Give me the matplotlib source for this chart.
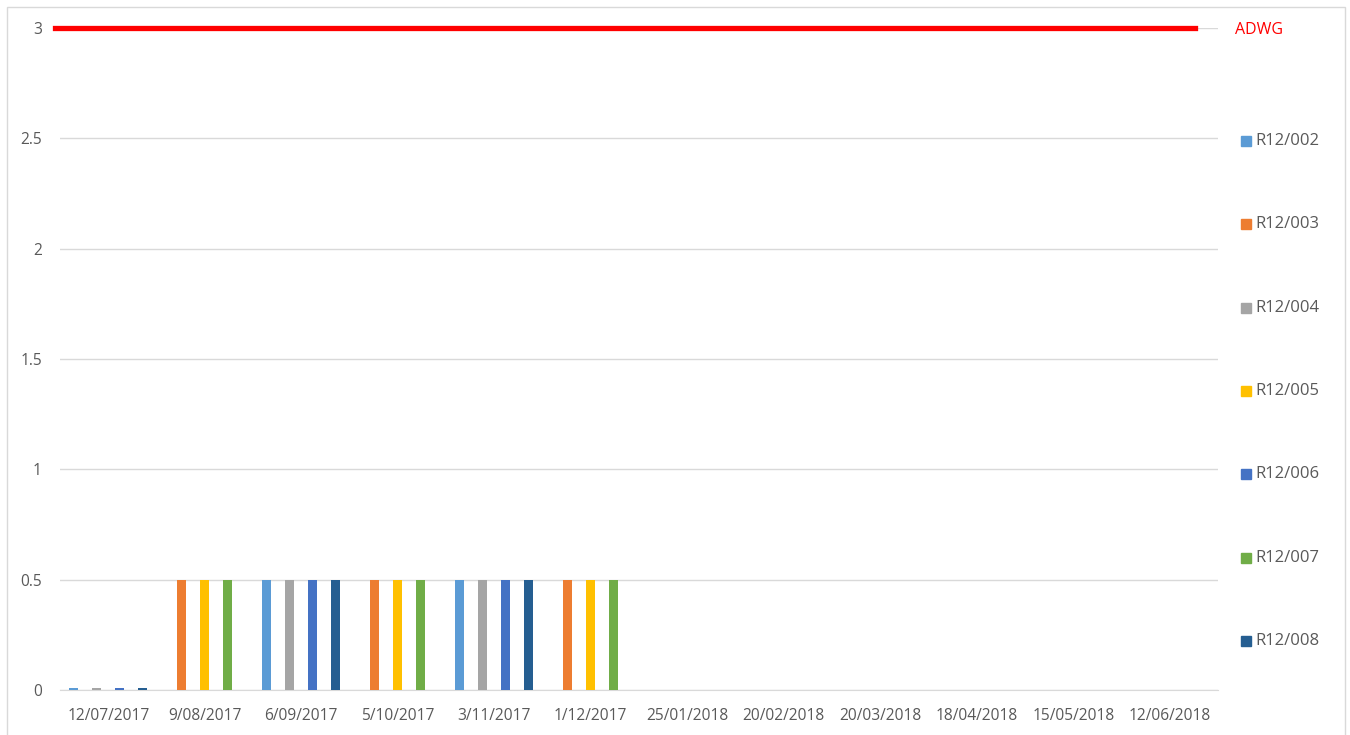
import numpy as np
import matplotlib
matplotlib.use("Agg")
import matplotlib.pyplot as plt
from matplotlib.patches import Rectangle

plt.rcParams["font.family"] = ["Open Sans", "DejaVu Sans"]

dates = ["12/07/2017", "9/08/2017", "6/09/2017", "5/10/2017", "3/11/2017", "1/12/2017",
         "25/01/2018", "20/02/2018", "20/03/2018", "18/04/2018", "15/05/2018", "12/06/2018"]
N = None
r002 = [0.01, N, 0.5, N, 0.5, N, N, N, N, N, N, N]
r003 = [N, 0.5, N, 0.5, N, 0.5, N, N, N, N, N, N]
r004 = [0.01, N, 0.5, N, 0.5, N, N, N, N, N, N, N]
r005 = [N, 0.5, N, 0.5, N, 0.5, N, N, N, N, N, N]
r006 = [0.01, N, 0.5, N, 0.5, N, N, N, N, N, N, N]
r007 = [N, 0.5, N, 0.5, N, 0.5, N, N, N, N, N, N]
r008 = [0.01, N, 0.5, N, 0.5, N, N, N, N, N, N, N]
adwg = 3

series = [("R12/002", r002, "#5B9BD5"), ("R12/003", r003, "#ED7D31"),
          ("R12/004", r004, "#A5A5A5"), ("R12/005", r005, "#FFC000"),
          ("R12/006", r006, "#4472C4"), ("R12/007", r007, "#70AD47"),
          ("R12/008", r008, "#255E91")]

W, H = 1350, 735
fig = plt.figure(figsize=(13.5, 7.35), dpi=100)
ax = fig.add_axes([60 / W, 1 - 690 / H, 1158 / W, (690 - 28) / H])

x = np.arange(len(dates))
step, bw = 0.119, 0.093
for i, (name, vals, col) in enumerate(series):
    v = np.array([np.nan if a is None else a for a in vals], dtype=float)
    ax.bar(x + (i - 3) * step, v, bw, color=col, zorder=3)

# ADWG guideline value
ax.axhline(adwg, xmin=-0.004, xmax=0.98, color="#FF0000", lw=3.8, zorder=4, clip_on=False)

ax.set_xlim(-0.5, len(dates) - 0.5)
ax.set_ylim(0, 3)
ax.set_yticks([0, 0.5, 1, 1.5, 2, 2.5, 3])
ax.set_yticklabels(["0", "0.5", "1", "1.5", "2", "2.5", "3"])
ax.set_xticks(x)
ax.set_xticklabels(dates)
ax.tick_params(axis="both", length=0, labelsize=11.2, labelcolor="#595959")
ax.tick_params(axis="y", pad=13)
ax.tick_params(axis="x", pad=13)
ax.grid(axis="y", color="#D9D9D9", lw=1, zorder=0)
for s in ["top", "right", "left"]:
    ax.spines[s].set_visible(False)
ax.spines["bottom"].set_color("#D9D9D9")

# legend on the right
fig.text(1235 / W, 1 - 30 / H, "ADWG", color="#FF0000", fontsize=11.5, va="center", ha="left")
for i, (name, vals, col) in enumerate(series):
    yc = 141 + i * 83.3
    fig.add_artist(Rectangle((1241 / W, 1 - (yc + 5) / H), 10 / W, 10 / H,
                             transform=fig.transFigure, color=col))
    fig.text(1255 / W, 1 - yc / H, name, color="#595959", fontsize=12, va="center", ha="left")

# chart border
fig.add_artist(Rectangle((7 / W, -0.02), 1338 / W, 1 - 7 / H + 0.02, transform=fig.transFigure,
                         fill=False, edgecolor="#D9D9D9", lw=1))

fig.savefig("out.png", dpi=100)
